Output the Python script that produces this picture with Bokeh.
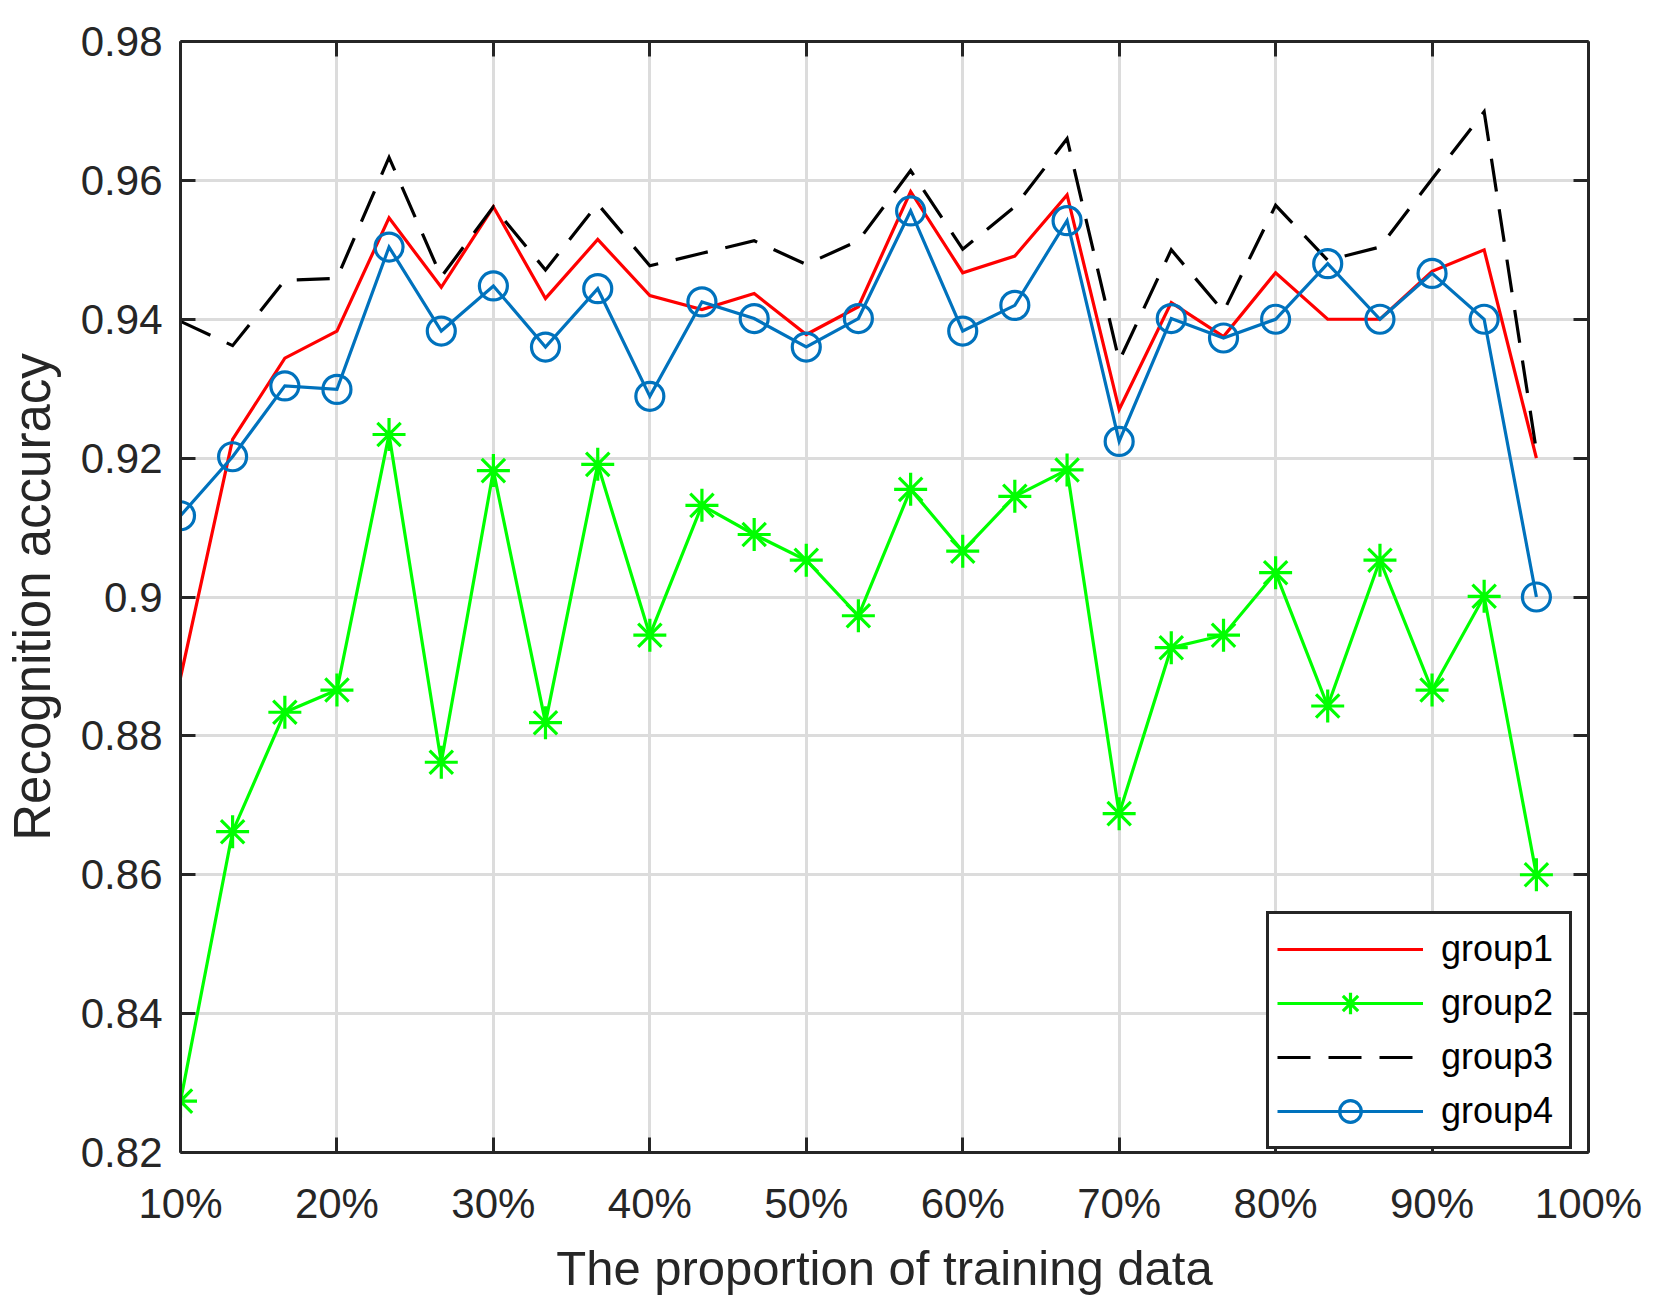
from bokeh.plotting import figure
from bokeh.models import Range1d, LinearAxis, FixedTicker, Legend, LegendItem
from bokeh.embed import file_html
from bokeh.resources import INLINE

# ---------------- data ----------------
proportion = [10, 13.33, 16.67, 20, 23.33, 26.67, 30, 33.33, 36.67, 40,
              43.33, 46.67, 50, 53.33, 56.67, 60, 63.33, 66.67, 70, 73.33,
              76.67, 80, 83.33, 86.67, 90, 93.33, 96.67]

group1 = [0.8884, 0.9227, 0.9344, 0.9383, 0.9546, 0.9446, 0.9562, 0.9430, 0.9515,
          0.9434, 0.9414, 0.9437, 0.9378, 0.9418, 0.9584, 0.9467, 0.9491, 0.9579,
          0.9270, 0.9424, 0.9375, 0.9467, 0.9400, 0.9400, 0.9469, 0.9500, 0.9200]

group2 = [0.8274, 0.8662, 0.8834, 0.8866, 0.9234, 0.8762, 0.9182, 0.8819, 0.9191,
          0.8945, 0.9132, 0.9090, 0.9053, 0.8973, 0.9155, 0.9066, 0.9145, 0.9183,
          0.8688, 0.8927, 0.8945, 0.9035, 0.8843, 0.9053, 0.8866, 0.9001, 0.8600]

group3 = [0.9397, 0.9362, 0.9456, 0.9459, 0.9633, 0.9461, 0.9562, 0.9471, 0.9566,
          0.9477, 0.9495, 0.9513, 0.9479, 0.9513, 0.9614, 0.9501, 0.9562, 0.9660,
          0.9340, 0.9500, 0.9411, 0.9564, 0.9485, 0.9504, 0.9602, 0.9699, 0.9210]

group4 = [0.9117, 0.9202, 0.9304, 0.9299, 0.9504, 0.9383, 0.9448, 0.9360, 0.9444,
          0.9289, 0.9425, 0.9401, 0.9360, 0.9401, 0.9556, 0.9383, 0.9420, 0.9542,
          0.9224, 0.9401, 0.9373, 0.9400, 0.9480, 0.9400, 0.9466, 0.9400, 0.9000]

series_names = ["group1", "group2", "group3", "group4"]

x_tick_values = [10, 20, 30, 40, 50, 60, 70, 80, 90, 100]
x_tick_labels = ["10%", "20%", "30%", "40%", "50%", "60%", "70%", "80%", "90%", "100%"]
y_tick_values = [0.82, 0.84, 0.86, 0.88, 0.90, 0.92, 0.94, 0.96, 0.98]
y_tick_labels = ["0.82", "0.84", "0.86", "0.88", "0.9", "0.92", "0.94", "0.96", "0.98"]

x_label = "The proportion of training data"
y_label = "Recognition accuracy"

# ---------------- styling ----------------
FONT = "Liberation Sans"
AX = "#262626"
GRID = "#dcdcdc"
RED = "#ff0000"
GREEN = "#00ff00"
BLACK = "#000000"
BLUE = "#0072bd"

p = figure(frame_width=1408, frame_height=1111,
           min_border_left=178, min_border_top=41,
           min_border_right=55, min_border_bottom=140,
           x_range=Range1d(10, 100), y_range=Range1d(0.82, 0.98),
           output_backend="svg", toolbar_location=None,
           x_axis_label=x_label, y_axis_label=y_label)
p.background_fill_color = "white"
p.border_fill_color = "white"
p.outline_line_color = None

xt = FixedTicker(ticks=x_tick_values, minor_ticks=[])
yt = FixedTicker(ticks=y_tick_values, minor_ticks=[])

for ax in list(p.xaxis) + list(p.yaxis):
    ax.axis_line_color = AX
    ax.axis_line_width = 3
    ax.major_tick_line_color = AX
    ax.major_tick_line_width = 3
    ax.major_tick_in = 15
    ax.major_tick_out = 0
    ax.minor_tick_line_color = None
    ax.major_label_text_font = FONT
    ax.major_label_text_font_size = "42px"
    ax.major_label_text_color = AX
    ax.axis_label_text_font = FONT
    ax.axis_label_text_font_style = "normal"
    ax.axis_label_text_color = AX

for ax in p.xaxis:
    ax.ticker = xt
    ax.major_label_overrides = dict(zip(x_tick_values, x_tick_labels))
    ax.major_label_standoff = 27
    ax.axis_label_standoff = 11
    ax.axis_label_text_font_size = "49px"
for ax in p.yaxis:
    ax.ticker = yt
    ax.major_label_overrides = dict(zip(y_tick_values, y_tick_labels))
    ax.major_label_standoff = 18
    ax.axis_label_standoff = 17
    ax.axis_label_text_font_size = "51px"

# box axes (top / right) with inward ticks and no labels
for loc, tk in (("above", xt), ("right", yt)):
    a = LinearAxis(ticker=tk)
    a.axis_line_color = AX
    a.axis_line_width = 3
    a.major_tick_line_color = AX
    a.major_tick_line_width = 3
    a.major_tick_in = 15
    a.major_tick_out = 0
    a.minor_tick_line_color = None
    a.major_label_text_color = None
    a.major_label_text_font_size = "1px"
    a.major_label_standoff = 0
    p.add_layout(a, loc)

p.xgrid.ticker = xt
p.ygrid.ticker = yt
for g in (p.xgrid, p.ygrid):
    g.grid_line_color = GRID
    g.grid_line_width = 3

# ---------------- data glyphs ----------------
LW = 3.2
r1 = p.line(proportion, group1, line_color=RED, line_width=LW, line_join="miter")
r2 = p.line(proportion, group2, line_color=GREEN, line_width=LW, line_join="miter")
s2 = p.scatter(proportion, group2, marker="asterisk", size=33,
               line_color=GREEN, line_width=3.2)
r3 = p.line(proportion, group3, line_color=BLACK, line_width=LW,
            line_dash="33 18", line_join="miter")
r4 = p.line(proportion, group4, line_color=BLUE, line_width=LW, line_join="miter")
s4 = p.scatter(proportion, group4, marker="circle", size=28,
               line_color=BLUE, line_width=3.2, fill_color=None)

legend = Legend(items=[
    LegendItem(label=series_names[0], renderers=[r1]),
    LegendItem(label=series_names[1], renderers=[r2, s2]),
    LegendItem(label=series_names[2], renderers=[r3]),
    LegendItem(label=series_names[3], renderers=[r4, s4]),
], location=(1086, 3))
legend.margin = 0
legend.padding = 8
legend.spacing = 0
legend.glyph_width = 146
legend.glyph_height = 54
legend.label_height = 54
legend.label_width = 120
legend.label_standoff = 18
legend.label_text_font = FONT
legend.label_text_font_size = "36px"
legend.label_text_color = "#000000"
legend.border_line_color = AX
legend.border_line_width = 3
legend.border_line_alpha = 1.0
legend.background_fill_color = "white"
legend.background_fill_alpha = 1.0
p.add_layout(legend, "center")

open("out.html", "w").write(file_html(p, INLINE))
